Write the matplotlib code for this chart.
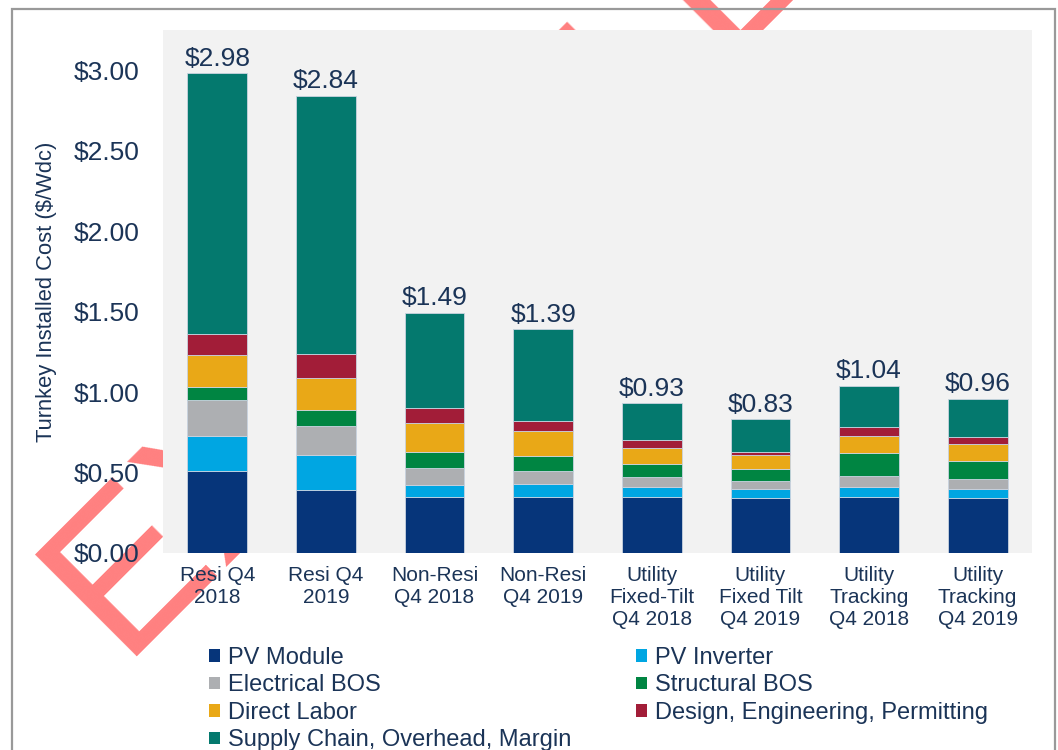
import matplotlib
matplotlib.use("Agg")
import matplotlib.pyplot as plt
from matplotlib.patches import Rectangle, Patch
import numpy as np

# bar categories and totals ($/Wdc)
categories = ["Resi Q4\n2018", "Resi Q4\n2019", "Non-Resi\nQ4 2018", "Non-Resi\nQ4 2019",
              "Utility\nFixed-Tilt\nQ4 2018", "Utility\nFixed Tilt\nQ4 2019",
              "Utility\nTracking\nQ4 2018", "Utility\nTracking\nQ4 2019"]
totals = [2.98, 2.84, 1.49, 1.39, 0.93, 0.83, 1.04, 0.96]

# cost components, bottom to top
pv_module = [0.51, 0.39, 0.35, 0.35, 0.35, 0.34, 0.35, 0.34]
pv_inverter = [0.22, 0.22, 0.07, 0.08, 0.06, 0.06, 0.06, 0.06]
electrical_bos = [0.22, 0.18, 0.11, 0.08, 0.06, 0.05, 0.07, 0.06]
structural_bos = [0.08, 0.10, 0.10, 0.09, 0.08, 0.07, 0.14, 0.11]
direct_labor = [0.20, 0.20, 0.18, 0.16, 0.10, 0.09, 0.11, 0.11]
design_eng = [0.13, 0.145, 0.09, 0.06, 0.05, 0.02, 0.05, 0.04]
supply_chain = [1.62, 1.605, 0.59, 0.57, 0.23, 0.20, 0.26, 0.24]

component_names = ["PV Module", "PV Inverter", "Electrical BOS", "Structural BOS",
                   "Direct Labor", "Design, Engineering, Permitting",
                   "Supply Chain, Overhead, Margin"]
component_colors = ["#06357a", "#00a6e2", "#adafb2", "#008542",
                    "#e9a817", "#a21d38", "#04796e"]

yticks = [0.0, 0.5, 1.0, 1.5, 2.0, 2.5, 3.0]

text_color = "#1b3457"
plt.rcParams["font.family"] = ["Liberation Sans", "DejaVu Sans"]


def main():
    fig = plt.figure(figsize=(10.58, 7.5), dpi=100)
    W, H = 1058, 750

    # watermark behind the chart
    fig.text(120 / W, 1 - 657 / H, "EXAMPLE", rotation=45, rotation_mode="anchor",
             ha="left", va="baseline", fontsize=151, color="#ff8080", zorder=-5)

    # outer frame
    fig.patches.append(Rectangle((12 / W, -0.05), 1043 / W, 1.05 - 9 / H,
                                 transform=fig.transFigure, fill=False,
                                 edgecolor="#999999", linewidth=1.6, zorder=10))

    ax = fig.add_axes([163 / W, 1 - 553 / H, (1032 - 163) / W, (553 - 30) / H])
    ax.set_facecolor("#f2f2f2")

    x = np.arange(len(categories))
    series = [pv_module, pv_inverter, electrical_bos, structural_bos,
              direct_labor, design_eng, supply_chain]
    bottom = np.zeros(len(categories))
    handles = []
    for vals, name, col in zip(series, component_names, component_colors):
        ax.bar(x, vals, bottom=bottom, width=0.55, color=col,
               edgecolor="#c9d3e0", linewidth=0.6, zorder=3)
        bottom += np.array(vals)
        handles.append(Patch(facecolor=col, edgecolor="none", label=name))

    for xi, t in zip(x, totals):
        ax.annotate("${:.2f}".format(t), (xi, t), xytext=(0, 2),
                    textcoords="offset points", ha="center", va="bottom",
                    fontsize=19, color=text_color)

    ax.set_xlim(-0.5, len(categories) - 0.5)
    ax.set_ylim(0, 3.25)
    ax.set_yticks(yticks)
    ax.set_yticklabels(["${:.2f}".format(v) for v in yticks])
    ax.set_xticks(x)
    ax.set_xticklabels(categories, linespacing=1.2)
    ax.tick_params(axis="y", length=0, pad=17, labelsize=19, labelcolor=text_color)
    ax.tick_params(axis="x", length=0, pad=9.5, labelsize=15, labelcolor=text_color)
    for s in ax.spines.values():
        s.set_visible(False)

    ax.set_ylabel("Turnkey Installed Cost ($/Wdc)", fontsize=15.8, color=text_color,
                  labelpad=0)
    ax.yaxis.set_label_coords(-(163 - 57) / (1032 - 163), 0.5)

    # legend in two columns, row-wise order like the original
    leg_kw = dict(frameon=False, loc="upper left", borderpad=0, borderaxespad=0,
                  handlelength=0.45, handleheight=0.45, handletextpad=0.34,
                  labelspacing=0.23, prop={"size": 17}, labelcolor=text_color)
    fig.legend(handles=[handles[0], handles[2], handles[4], handles[6]],
               bbox_to_anchor=(209 / W, 1 - 647 / H), **leg_kw)
    fig.legend(handles=[handles[1], handles[3], handles[5]],
               bbox_to_anchor=(636 / W, 1 - 647 / H), **leg_kw)

    fig.savefig("out.png", dpi=100)


if __name__ == "__main__":
    main()
